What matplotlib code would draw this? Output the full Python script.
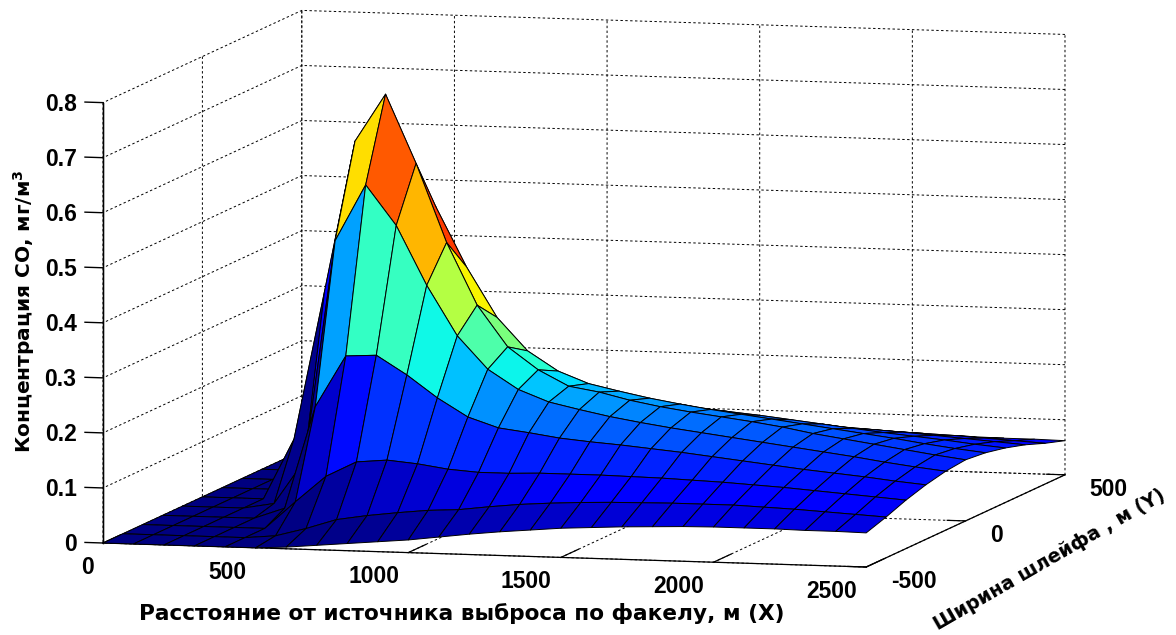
import numpy as np
import matplotlib
matplotlib.use('Agg')
import matplotlib.pyplot as plt
from mpl_toolkits.mplot3d import proj3d

x_m = [0, 100, 200, 300, 400, 500, 600, 700, 800, 900, 1000, 1100, 1200,
       1300, 1400, 1500, 1600, 1700, 1800, 1900, 2000, 2100, 2200, 2300, 2400, 2500]
y_m = [-500, -400, -300, -200, -100, 0, 100, 200, 300, 400, 500]

# concentration along the plume, one list per distance from the axis
co_0 = [0, 0, 0, .11, .38, .655, .742, .618, .476, .364, .29, .25, .222,
        .213, .20, .19, .182, .175, .168, .16, .15, .142, .134, .126, .118, .111]
co_100 = [0, 0, 0, .01, .09, .491, .594, .522, .415, .325, .266, .231, .21,
          .198, .187, .178, .17, .163, .156, .149, .142, .135, .128, .12, .113, .107]
co_200 = [0, 0, 0, 0, .02, .206, .30, .303, .269, .229, .196, .178, .171,
          .163, .158, .154, .149, .144, .138, .132, .126, .12, .115, .11, .104, .099]
co_300 = [0, 0, 0, 0, 0, .05, .098, .126, .131, .126, .118, .114, .114,
          .116, .116, .116, .115, .114, .112, .11, .107, .104, .10, .096, .092, .088]
co_400 = [0, 0, 0, 0, 0, .005, .02, .038, .047, .054, .06, .063, .07,
          .076, .08, .083, .085, .086, .087, .087, .087, .085, .083, .08, .077, .074]
co_500 = [0, 0, 0, 0, 0, 0, .003, .008, .013, .018, .023, .03, .037,
          .043, .048, .053, .056, .059, .061, .063, .064, .064, .064, .063, .063, .062]

x_ticks = [0, 500, 1000, 1500, 2000, 2500]
y_ticks = [-500, 0, 500]
z_ticks = [0, .1, .2, .3, .4, .5, .6, .7, .8]
z_labels = ['0', '0.1', '0.2', '0.3', '0.4', '0.5', '0.6', '0.7', '0.8']
y_labels = ['-500', '0', '500']

plt.rcParams['font.family'] = ['Liberation Sans', 'DejaVu Sans']
plt.rcParams['font.weight'] = 'bold'
plt.rcParams['mathtext.fontset'] = 'custom'
plt.rcParams['mathtext.bf'] = 'DejaVu Sans:bold'

W, H = 1176, 635
LABEL_FONT = ['DejaVu Sans']


def project(ax, x, y, z):
    # pixel position (from the top left corner) of a data point
    vx, vy, _ = proj3d.proj_transform(x, y, z, ax.get_proj())
    px, py = ax.transData.transform((vx, vy))
    return np.array([px, H - py])


def place_axes(ax):
    # move the square 3d axes so the box corners land where they should
    side = 900.
    left, bottom = 100., -100.
    for _ in range(4):
        ax.set_position([left / W, bottom / H, side / W, side / H])
        ax.apply_aspect()
        a = project(ax, 0, -500, 0)
        b = project(ax, 2500, 500, 0)
        side *= np.hypot(*[962, -68]) / np.hypot(*(b - a))
        ax.set_position([left / W, bottom / H, side / W, side / H])
        ax.apply_aspect()
        a = project(ax, 0, -500, 0)
        left += 103 - a[0]
        bottom += a[1] - 543


def main():
    X, Y = np.meshgrid(x_m, y_m)
    Z = np.array([co_500, co_400, co_300, co_200, co_100, co_0,
                  co_100, co_200, co_300, co_400, co_500])

    fig = plt.figure(figsize=(W / 100, H / 100), dpi=100)
    ax = fig.add_subplot(projection='3d', proj_type='ortho')
    ax.view_init(elev=6.94, azim=-75.4)
    ax.set_box_aspect((1, 1, .5625))
    ax.patch.set_visible(False)

    colors = plt.cm.jet(Z / .73)
    ax.plot_surface(X, Y, Z, rstride=1, cstride=1, facecolors=colors,
                    edgecolor='black', linewidth=.7, shade=False, antialiased=True)

    ax.set_xlim(0, 2500, view_margin=0)
    ax.set_ylim(-500, 500, view_margin=0)
    ax.set_zlim(0, .8, view_margin=0)
    ax.set_xticks(x_ticks)
    ax.set_yticks(y_ticks)
    ax.set_yticklabels(y_labels)
    ax.set_zticks(z_ticks)
    ax.set_zticklabels(z_labels)

    for axis in (ax.xaxis, ax.yaxis, ax.zaxis):
        axis.set_pane_color((1, 1, 1, 0))
        axis.pane.set_edgecolor((1, 1, 1, 0))
        axis.line.set_color('black')
        axis.line.set_linewidth(.9)
        axis._axinfo['grid'].update(color='black', linewidth=.7, linestyle=(0, (2.5, 2.5)))
        axis._axinfo['tick'].update(inward_factor=0, outward_factor=.3, linewidth={True: .9, False: .9})
    ax.xaxis._axinfo['tick']['outward_factor'] = 1.1
    ax.zaxis._axinfo['tick']['outward_factor'] = 0
    ax.zaxis.set_ticks_position('lower')
    ax.tick_params(labelsize=16.5, colors='black')
    ax.tick_params(axis='x', pad=12)
    ax.tick_params(axis='y', pad=6)
    ax.tick_params(axis='z', pad=4)
    plt.setp(ax.get_xticklabels(), ha='right', va='center')
    plt.setp(ax.get_yticklabels(), ha='left', va='center')
    plt.setp(ax.get_zticklabels(), ha='right', va='center')

    # z axis line and its ticks on the left corner
    ax.plot([0, 0], [-500, -500], [z_ticks[0], z_ticks[-1]], color='black', linewidth=1)
    for z in z_ticks:
        ax.plot([-59, 0], [-500, -500], [z, z], color='black', linewidth=1)

    place_axes(ax)

    fig.text(462 / W, 1 - 613 / H, 'Расстояние от источника выброса по факелу, м (X)',
             ha='center', va='center', fontsize=15.6, family=LABEL_FONT)
    fig.text(24 / W, 1 - 311 / H, 'Концентрация СО, мг/м$\\mathbf{^3}$',
             ha='center', va='center', rotation=90, fontsize=14.5, family=LABEL_FONT)
    fig.text(1050 / W, 1 - 560 / H, 'Ширина шлейфа , м (Y)',
             ha='center', va='center', rotation=30, fontsize=13.8, family=LABEL_FONT)

    fig.savefig('out.png', dpi=100)
    plt.close(fig)


if __name__ == "__main__":
    main()
